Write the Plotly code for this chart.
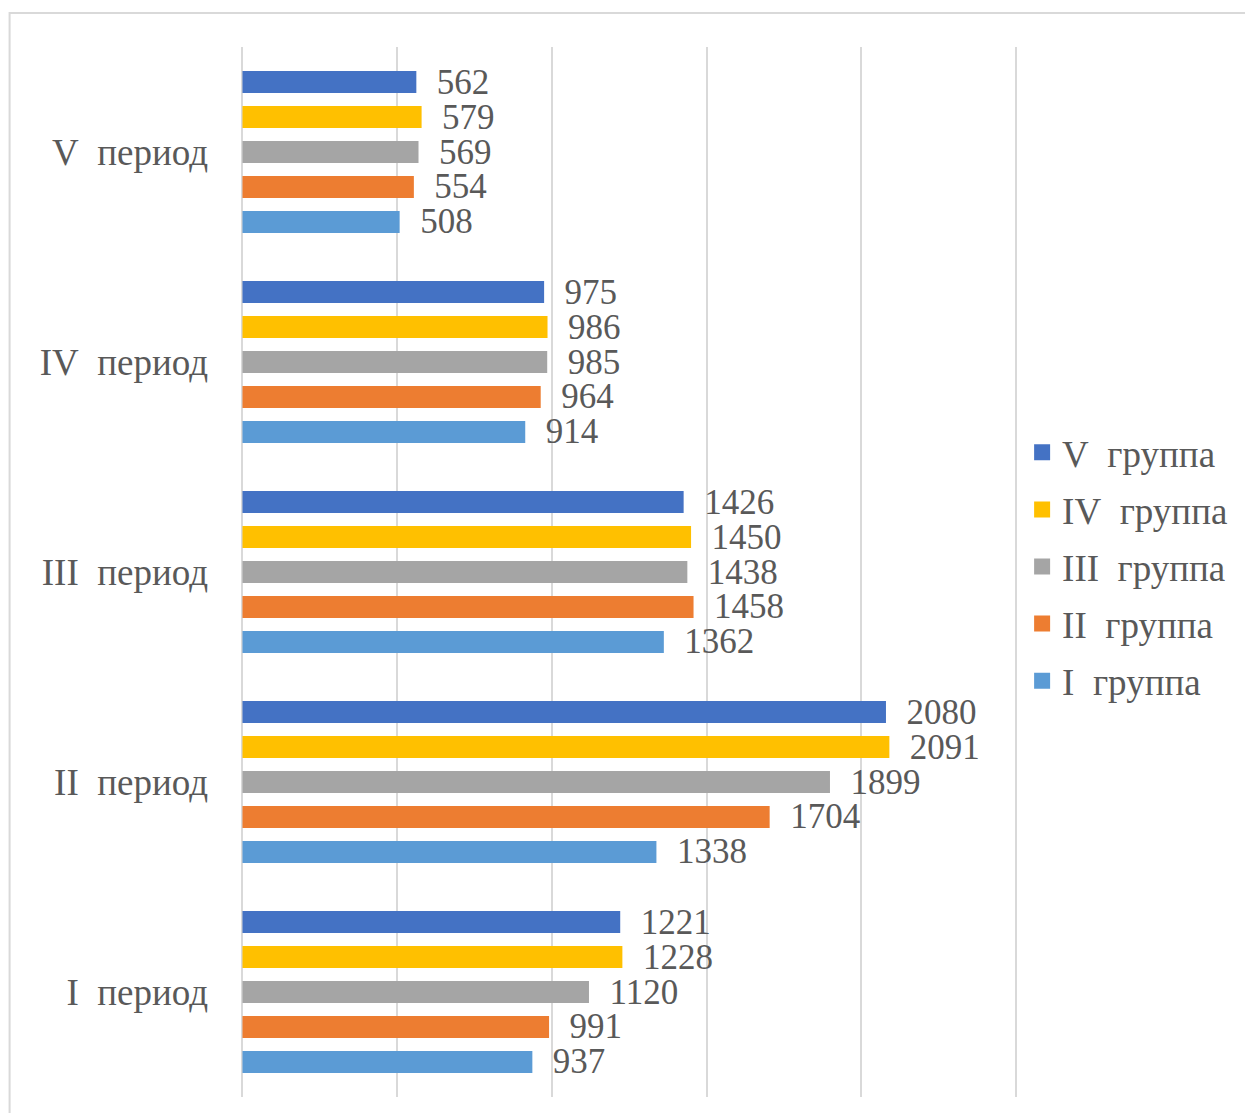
import plotly.graph_objects as go

# Periods along the category axis (bottom to top)
periods = ["I\u00a0 период", "II\u00a0 период", "III\u00a0 период", "IV\u00a0 период", "V\u00a0 период"]

# Values per group, in the same period order
group_I = [937, 1338, 1362, 914, 508]
group_II = [991, 1704, 1458, 964, 554]
group_III = [1120, 1899, 1438, 985, 569]
group_IV = [1228, 2091, 1450, 986, 579]
group_V = [1221, 2080, 1426, 975, 562]

group_names = ["I\u00a0 группа", "II\u00a0 группа", "III\u00a0 группа", "IV\u00a0 группа", "V\u00a0 группа"]
group_values = [group_I, group_II, group_III, group_IV, group_V]
group_colors = ["#5B9BD5", "#ED7D31", "#A5A5A5", "#FFC000", "#4472C4"]

FONT = "Liberation Serif, Times New Roman, serif"
TEXT_COLOR = "#595959"

fig = go.Figure()
for i, (name, vals, color) in enumerate(zip(group_names, group_values, group_colors)):
    fig.add_trace(go.Bar(
        y=periods,
        x=vals,
        name=name,
        orientation="h",
        marker=dict(color=color, line=dict(width=0)),
        text=vals,
        texttemplate="\u00a0\u00a0%{x}",
        textposition="outside",
        constraintext="none",
        cliponaxis=False,
        textfont=dict(family=FONT, size=35, color=TEXT_COLOR),
        showlegend=False,
    ))
    # square legend keys
    fig.add_trace(go.Scatter(
        x=[None], y=[None],
        mode="markers",
        name=name,
        marker=dict(symbol="square", size=17, color=color),
        legendgroup=name,
        legendrank=len(group_names) - i,
        showlegend=True,
    ))

fig.update_layout(
    width=1245,
    height=1113,
    margin=dict(l=240, r=224, t=47, b=16),
    paper_bgcolor="white",
    plot_bgcolor="white",
    barmode="group",
    bargap=0.167,
    bargroupgap=0.37,
    font=dict(family=FONT, color=TEXT_COLOR),
    showlegend=True,
    legend=dict(
        x=1.004, xanchor="left",
        y=0.505, yanchor="middle",
        traceorder="grouped",
        tracegroupgap=6,
        itemwidth=30,
        font=dict(family=FONT, size=37, color=TEXT_COLOR),
        bgcolor="rgba(0,0,0,0)",
    ),
    xaxis=dict(
        range=[-8, 2510],
        tickvals=[0, 500, 1000, 1500, 2000, 2500],
        showticklabels=False,
        showgrid=True,
        gridcolor="#D9D9D9",
        gridwidth=2,
        zeroline=False,
        showline=False,
        fixedrange=True,
    ),
    yaxis=dict(
        type="category",
        showgrid=False,
        zeroline=False,
        showline=False,
        ticks="",
        ticklabelstandoff=31,
        tickfont=dict(family=FONT, size=37, color=TEXT_COLOR),
    ),
    shapes=[dict(
        type="rect",
        xref="paper", yref="paper",
        x0=(9 - 240) / 781, x1=(1300 - 240) / 781,
        y0=(1097 - 1130) / 1050, y1=(1097 - 13) / 1050,
        line=dict(color="#D9D9D9", width=2),
        fillcolor="rgba(0,0,0,0)",
        layer="below",
    )],
)

fig.write_html("out.html")
